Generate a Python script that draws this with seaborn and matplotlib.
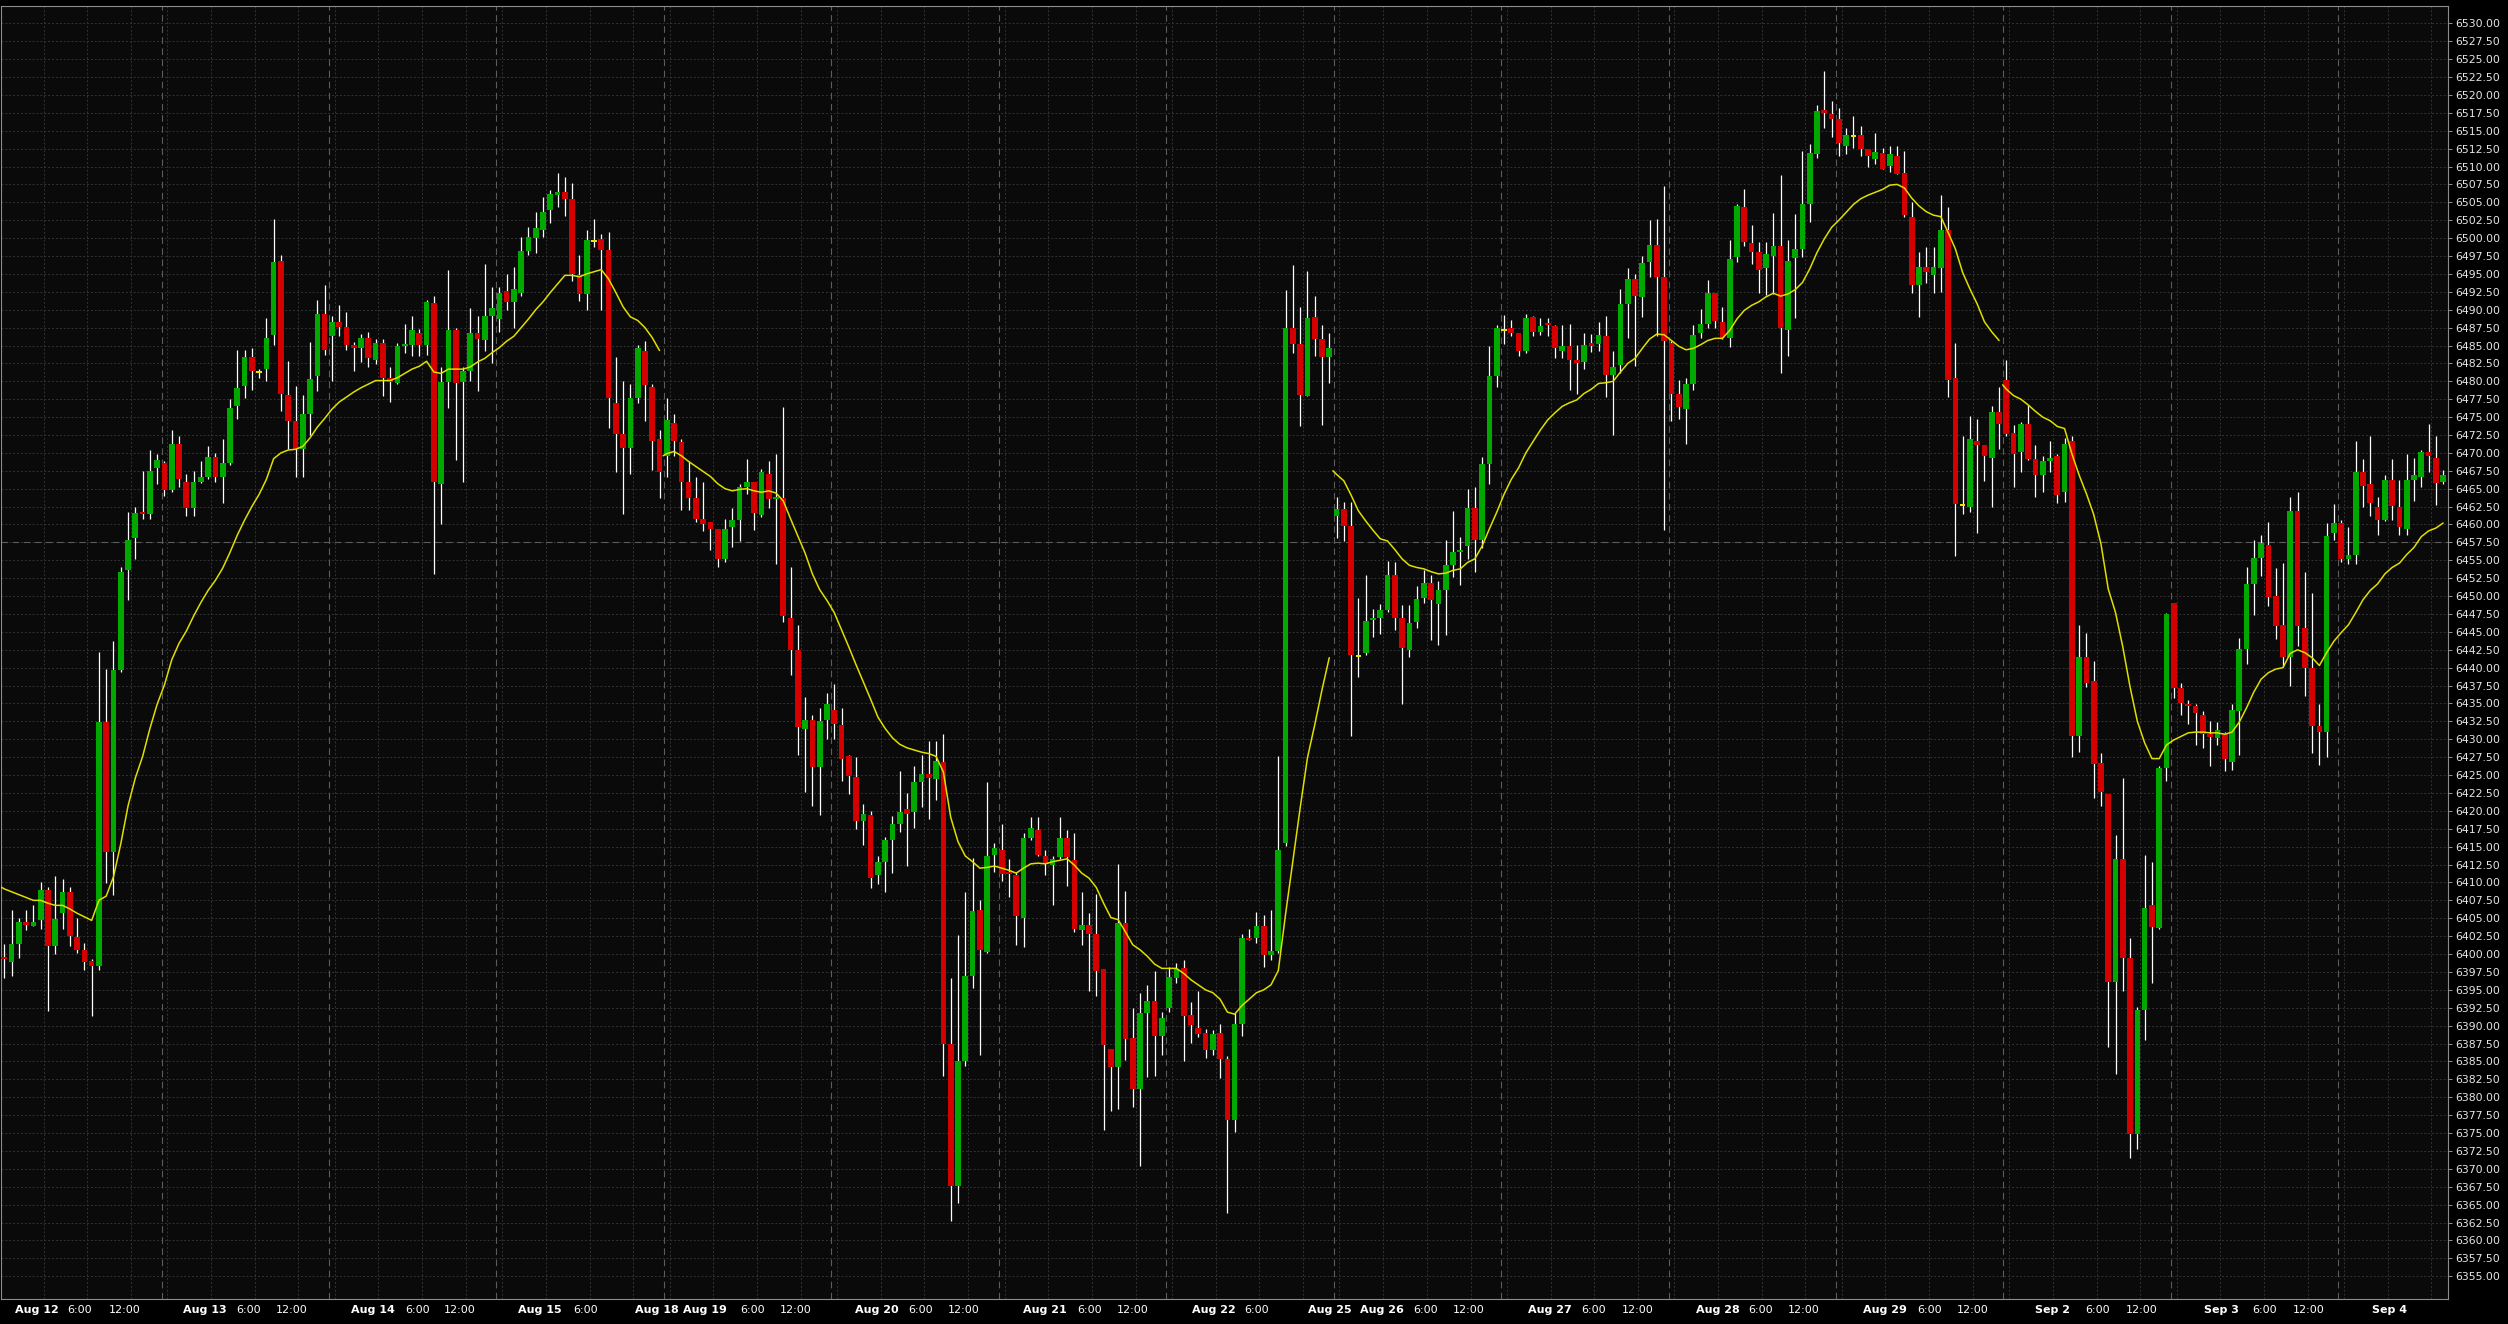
import numpy as np
import pandas as pd
import matplotlib
matplotlib.use("Agg")
import matplotlib.pyplot as plt
import seaborn as sns

# hourly OHLC bars, Aug 12 - Sep 4 (one entry per bar)
opens = [
    6399.6, 6398.9, 6401.4, 6404.5, 6403.9, 6404.7, 6409.0, 6401.1, 6405.7, 6408.6,
    6402.4, 6400.6, 6399.1, 6398.4, 6432.4, 6414.2, 6439.7, 6453.7, 6458.1, 6461.7,
    6461.4, 6467.9, 6468.6, 6464.8, 6471.2, 6465.9, 6462.3, 6465.9, 6466.6, 6469.4,
    6466.7, 6468.6, 6476.5, 6479.3, 6483.4, 6481.1, 6481.7, 6486.4, 6496.8, 6478.1,
    6474.4, 6470.6, 6475.5, 6480.7, 6489.4, 6486.3, 6488.3, 6487.6, 6485.1, 6484.7,
    6486.1, 6483.0, 6485.4, 6480.4, 6479.8, 6484.9, 6485.1, 6486.8, 6485.1, 6490.9,
    6465.7, 6479.9, 6487.2, 6479.9, 6481.4, 6486.8, 6485.7, 6489.1, 6488.7, 6492.6,
    6491.1, 6492.4, 6498.2, 6500.0, 6501.1, 6503.9, 6506.0, 6506.5, 6505.5, 6494.8,
    6492.2, 6499.5, 6499.9, 6498.4, 6477.0, 6472.7, 6470.7, 6477.6, 6484.3, 6479.2,
    6471.9, 6469.6, 6474.2, 6471.5, 6466.0, 6463.7, 6460.8, 6460.3, 6459.4, 6455.2,
    6459.7, 6460.6, 6465.3, 6465.9, 6461.3, 6467.1, 6463.5, 6463.7, 6446.9, 6442.4,
    6431.5, 6432.7, 6426.1, 6432.7, 6434.1, 6432.0, 6427.6, 6424.7, 6418.6, 6419.4,
    6411.0, 6412.9, 6415.9, 6418.1, 6420.2, 6419.8, 6424.1, 6425.1, 6424.4, 6426.8,
    6387.5, 6367.6, 6385.1, 6396.9, 6406.1, 6400.3, 6413.9, 6414.6, 6411.5, 6411.1,
    6405.1, 6416.2, 6417.3, 6413.7, 6412.4, 6413.5, 6416.2, 6413.1, 6403.3, 6404.0,
    6402.8, 6397.9, 6386.8, 6384.2, 6404.4, 6388.3, 6381.2, 6391.7, 6393.5, 6388.5,
    6392.5, 6396.6, 6398.0, 6391.5, 6389.7, 6389.0, 6386.6, 6389.0, 6385.4, 6376.8,
    6390.3, 6402.3, 6402.3, 6403.9, 6399.9, 6400.4, 6415.5, 6487.5, 6485.2, 6477.9,
    6489.0, 6485.9, 6483.4, 6461.2, 6462.1, 6459.8, 6441.5, 6442.0, 6446.6, 6446.9,
    6448.1, 6452.9, 6446.9, 6442.4, 6446.4, 6449.8, 6451.8, 6448.9, 6450.9, 6454.3,
    6456.1, 6457.0, 6462.3, 6457.9, 6468.5, 6480.8, 6487.0, 6487.4, 6486.8, 6484.3,
    6489.0, 6486.9, 6488.0, 6487.7, 6484.3, 6484.9, 6483.0, 6482.7, 6485.3, 6485.2,
    6486.3, 6480.9, 6482.3, 6490.8, 6494.3, 6491.8, 6496.6, 6499.0, 6494.6, 6485.3,
    6478.2, 6476.1, 6479.6, 6486.8, 6488.0, 6492.4, 6488.3, 6486.0, 6497.3, 6504.4,
    6499.3, 6498.0, 6495.8, 6497.5, 6498.9, 6487.1, 6497.2, 6498.5, 6504.7, 6511.7,
    6517.9, 6517.3, 6516.7, 6512.9, 6514.1, 6514.4, 6512.5, 6511.0, 6511.9, 6510.1,
    6511.5, 6509.1, 6503.0, 6493.4, 6495.9, 6494.9, 6495.8, 6501.2, 6480.4, 6462.6,
    6462.4, 6471.6, 6471.1, 6469.3, 6475.7, 6480.2, 6472.8, 6470.1, 6474.1, 6469.1,
    6466.9, 6468.9, 6469.5, 6464.5, 6471.6, 6430.4, 6441.5, 6438.1, 6426.7, 6422.3,
    6396.1, 6413.3, 6399.4, 6374.8, 6392.2, 6406.8, 6403.7, 6426.0, 6449.1, 6437.2,
    6434.9, 6434.7, 6433.4, 6430.7, 6430.2, 6430.9, 6426.8, 6434.0, 6442.6, 6451.7,
    6455.3, 6457.1, 6450.0, 6446.0, 6441.5, 6461.9, 6445.6, 6440.0, 6431.9, 6431.0,
    6458.8, 6460.2, 6455.2, 6455.8, 6467.3, 6465.6, 6462.5, 6460.6, 6466.2, 6462.5,
    6459.4, 6466.2, 6466.7, 6470.1, 6469.3, 6465.9,
]
highs = [
    6401.4, 6406.2, 6405.0, 6406.2, 6406.8, 6410.0, 6409.3, 6410.9, 6410.5, 6409.3,
    6405.0, 6401.6, 6399.3, 6442.2, 6439.8, 6443.7, 6454.1, 6461.7, 6462.5, 6467.5,
    6470.4, 6469.8, 6468.8, 6473.2, 6472.3, 6467.1, 6467.5, 6468.9, 6471.0, 6470.0,
    6471.9, 6477.5, 6484.4, 6484.4, 6484.7, 6481.7, 6488.8, 6502.7, 6497.6, 6482.8,
    6479.4, 6478.1, 6485.5, 6491.4, 6493.5, 6489.1, 6490.6, 6489.7, 6485.5, 6486.6,
    6486.9, 6485.9, 6485.9, 6482.0, 6485.3, 6488.0, 6489.1, 6487.3, 6491.4, 6491.9,
    6482.0, 6495.5, 6487.4, 6482.0, 6490.3, 6489.1, 6496.4, 6493.2, 6493.2, 6495.0,
    6496.0, 6500.2, 6501.6, 6503.6, 6505.7, 6506.7, 6509.1, 6508.6, 6507.7, 6497.7,
    6501.1, 6502.6, 6500.6, 6500.8, 6483.4, 6480.0, 6479.6, 6485.1, 6485.6, 6479.6,
    6473.2, 6477.6, 6475.4, 6472.0, 6468.9, 6466.7, 6466.0, 6460.3, 6459.4, 6460.8,
    6462.3, 6465.7, 6469.1, 6465.9, 6467.8, 6468.9, 6469.9, 6476.4, 6454.0, 6446.0,
    6435.9, 6433.4, 6434.3, 6436.4, 6437.7, 6434.3, 6427.8, 6427.5, 6421.0, 6420.0,
    6413.7, 6416.3, 6419.3, 6425.6, 6422.5, 6426.2, 6427.8, 6429.7, 6429.7, 6430.7,
    6396.7, 6402.7, 6408.6, 6413.4, 6407.6, 6424.1, 6415.5, 6418.2, 6413.3, 6411.5,
    6416.9, 6419.1, 6419.1, 6414.6, 6413.7, 6419.1, 6417.3, 6416.9, 6408.7, 6405.7,
    6408.4, 6397.9, 6386.8, 6412.6, 6408.8, 6392.5, 6394.6, 6395.7, 6397.7, 6391.9,
    6398.2, 6398.8, 6399.2, 6393.3, 6394.8, 6389.5, 6389.4, 6390.3, 6385.7, 6391.7,
    6402.8, 6403.5, 6405.9, 6405.4, 6406.2, 6427.7, 6492.8, 6496.3, 6490.4, 6495.4,
    6491.9, 6487.9, 6486.8, 6463.8, 6463.2, 6463.2, 6449.8, 6452.9, 6448.2, 6448.9,
    6454.9, 6454.7, 6448.7, 6448.7, 6451.4, 6453.6, 6452.9, 6452.1, 6457.8, 6461.9,
    6458.3, 6465.0, 6465.2, 6469.4, 6485.0, 6487.8, 6489.2, 6488.5, 6486.8, 6489.4,
    6489.1, 6488.8, 6488.8, 6487.9, 6487.9, 6488.0, 6485.1, 6486.7, 6486.6, 6488.3,
    6489.1, 6484.2, 6492.9, 6495.8, 6495.0, 6497.5, 6502.5, 6502.7, 6507.3, 6485.6,
    6480.2, 6480.4, 6487.8, 6490.1, 6494.1, 6492.4, 6490.4, 6499.7, 6504.7, 6506.9,
    6501.9, 6499.5, 6499.4, 6503.5, 6508.8, 6499.7, 6503.4, 6512.2, 6513.2, 6518.6,
    6523.3, 6519.2, 6518.2, 6515.4, 6517.0, 6515.7, 6512.5, 6514.7, 6512.6, 6512.8,
    6512.8, 6512.2, 6505.0, 6498.0, 6498.7, 6498.7, 6506.0, 6504.3, 6485.3, 6472.3,
    6475.1, 6474.8, 6471.1, 6476.5, 6479.2, 6483.0, 6473.9, 6474.3, 6476.7, 6471.1,
    6469.5, 6471.6, 6469.9, 6472.1, 6472.4, 6446.0, 6444.9, 6441.0, 6428.1, 6422.3,
    6416.6, 6424.6, 6402.3, 6392.6, 6413.9, 6412.9, 6426.2, 6447.7, 6449.1, 6437.8,
    6435.5, 6434.9, 6434.0, 6432.5, 6432.4, 6431.0, 6434.9, 6444.2, 6454.1, 6457.8,
    6458.5, 6460.3, 6453.9, 6454.6, 6463.8, 6464.5, 6453.4, 6450.5, 6434.9, 6460.2,
    6462.8, 6460.6, 6459.7, 6471.6, 6469.1, 6472.3, 6463.9, 6466.9, 6469.1, 6466.2,
    6469.9, 6469.3, 6470.4, 6474.1, 6472.3, 6467.6,
]
lows = [
    6396.6, 6397.0, 6399.5, 6403.3, 6403.9, 6403.5, 6392.0, 6400.0, 6403.5, 6401.1,
    6400.1, 6397.8, 6391.3, 6397.8, 6409.9, 6408.3, 6439.4, 6449.5, 6455.2, 6460.8,
    6460.8, 6465.6, 6464.0, 6464.6, 6465.2, 6461.2, 6461.2, 6465.8, 6466.3, 6466.0,
    6463.0, 6468.3, 6474.8, 6477.6, 6478.8, 6480.5, 6480.1, 6485.1, 6475.9, 6470.6,
    6466.7, 6466.7, 6472.5, 6478.6, 6483.7, 6480.1, 6486.3, 6484.4, 6481.4, 6482.7,
    6482.0, 6482.4, 6478.0, 6477.1, 6479.6, 6484.0, 6483.6, 6483.6, 6483.7, 6453.1,
    6460.0, 6476.3, 6469.0, 6466.0, 6480.1, 6478.6, 6484.2, 6482.5, 6486.9, 6490.0,
    6487.5, 6491.9, 6497.7, 6497.9, 6500.2, 6502.1, 6504.3, 6503.1, 6494.0, 6491.2,
    6490.0, 6498.7, 6490.0, 6473.5, 6467.4, 6461.5, 6467.1, 6476.9, 6474.4, 6467.6,
    6463.7, 6466.7, 6469.6, 6462.0, 6462.0, 6460.3, 6459.1, 6456.5, 6454.0, 6454.7,
    6456.9, 6457.7, 6464.2, 6459.2, 6461.0, 6462.3, 6454.5, 6446.4, 6439.0, 6427.8,
    6422.7, 6420.7, 6419.4, 6430.0, 6430.0, 6424.2, 6422.3, 6417.4, 6415.2, 6409.2,
    6409.8, 6408.7, 6411.3, 6417.1, 6412.3, 6417.6, 6420.5, 6418.8, 6421.5, 6382.9,
    6362.7, 6365.2, 6384.3, 6395.3, 6385.9, 6400.1, 6411.5, 6410.2, 6408.0, 6401.3,
    6401.0, 6416.0, 6413.7, 6411.1, 6406.8, 6413.3, 6409.5, 6403.1, 6401.3, 6394.8,
    6394.1, 6375.4, 6378.1, 6378.4, 6385.2, 6378.7, 6370.4, 6382.8, 6383.0, 6385.9,
    6391.9, 6395.9, 6385.0, 6387.6, 6388.4, 6385.5, 6385.9, 6382.7, 6363.9, 6375.2,
    6388.5, 6401.9, 6401.5, 6398.2, 6399.2, 6400.1, 6415.1, 6483.9, 6473.7, 6477.9,
    6483.5, 6473.9, 6479.7, 6458.1, 6457.7, 6430.4, 6438.7, 6441.8, 6444.3, 6444.7,
    6447.8, 6445.2, 6434.9, 6441.5, 6445.5, 6449.1, 6443.8, 6443.2, 6444.5, 6452.7,
    6451.6, 6455.2, 6453.4, 6456.7, 6465.6, 6479.2, 6485.2, 6486.3, 6483.5, 6484.0,
    6486.3, 6486.4, 6486.3, 6483.3, 6483.2, 6478.8, 6478.2, 6481.7, 6484.1, 6484.2,
    6477.8, 6472.5, 6481.1, 6486.0, 6482.2, 6489.0, 6494.5, 6486.3, 6459.3, 6474.5,
    6474.7, 6471.2, 6478.8, 6486.0, 6487.5, 6487.5, 6485.9, 6484.8, 6496.7, 6498.9,
    6496.4, 6492.3, 6492.0, 6492.2, 6481.1, 6483.5, 6488.8, 6497.3, 6502.2, 6511.2,
    6515.4, 6514.1, 6511.5, 6511.8, 6512.6, 6511.4, 6510.0, 6510.3, 6509.7, 6509.2,
    6508.9, 6502.9, 6492.4, 6489.0, 6493.7, 6492.4, 6492.5, 6477.8, 6455.6, 6461.4,
    6461.7, 6458.8, 6466.1, 6462.5, 6470.6, 6472.3, 6465.2, 6467.3, 6469.0, 6463.9,
    6464.5, 6467.3, 6463.0, 6463.2, 6427.5, 6428.2, 6437.3, 6421.8, 6420.7, 6387.0,
    6383.3, 6394.8, 6371.5, 6372.8, 6388.0, 6395.9, 6403.5, 6424.2, 6435.8, 6433.4,
    6432.1, 6429.2, 6428.8, 6426.2, 6429.2, 6425.5, 6425.7, 6427.8, 6440.5, 6447.3,
    6452.8, 6448.6, 6444.0, 6440.1, 6437.5, 6443.0, 6436.1, 6428.1, 6426.4, 6427.5,
    6457.8, 6454.8, 6454.5, 6454.5, 6462.5, 6461.2, 6458.5, 6460.5, 6460.6, 6458.5,
    6458.5, 6463.3, 6465.2, 6467.3, 6462.7, 6465.6,
]
closes = [
    6399.3, 6401.4, 6404.5, 6404.1, 6404.5, 6409.0, 6401.1, 6404.9, 6408.6, 6402.5,
    6400.6, 6398.9, 6398.4, 6432.4, 6414.2, 6439.7, 6453.3, 6457.8, 6461.6, 6461.4,
    6467.5, 6469.0, 6464.8, 6471.2, 6466.3, 6462.3, 6465.9, 6466.6, 6469.4, 6466.7,
    6468.6, 6476.3, 6479.1, 6483.4, 6481.5, 6481.1, 6486.1, 6496.6, 6478.2, 6474.4,
    6470.6, 6475.5, 6480.3, 6489.4, 6484.4, 6488.3, 6487.6, 6485.1, 6484.7, 6486.1,
    6483.2, 6485.4, 6480.4, 6479.9, 6484.9, 6485.1, 6487.2, 6485.1, 6491.1, 6466.0,
    6479.9, 6487.2, 6479.8, 6481.4, 6486.8, 6485.9, 6489.1, 6490.3, 6492.4, 6491.1,
    6492.9, 6498.2, 6500.2, 6501.4, 6503.6, 6506.2, 6506.5, 6505.5, 6495.0, 6492.2,
    6499.7, 6499.5, 6498.4, 6477.6, 6472.7, 6470.7, 6477.6, 6484.6, 6479.5, 6471.7,
    6467.3, 6474.6, 6471.7, 6466.0, 6463.7, 6460.8, 6460.1, 6459.4, 6455.2, 6459.4,
    6460.6, 6465.2, 6465.9, 6461.6, 6467.3, 6463.5, 6463.9, 6447.2, 6442.4, 6431.7,
    6432.7, 6426.1, 6432.5, 6434.9, 6432.2, 6427.3, 6424.9, 6418.6, 6419.5, 6410.6,
    6412.9, 6415.9, 6418.1, 6419.8, 6419.5, 6424.1, 6425.1, 6424.6, 6427.0, 6387.5,
    6367.6, 6385.1, 6396.9, 6406.0, 6400.6, 6413.7, 6414.8, 6411.2, 6411.2, 6405.3,
    6416.2, 6417.6, 6413.9, 6412.6, 6413.3, 6416.2, 6413.5, 6403.5, 6404.1, 6402.8,
    6397.7, 6387.3, 6384.2, 6404.4, 6388.2, 6381.2, 6391.7, 6393.5, 6388.5, 6391.0,
    6396.8, 6397.9, 6391.3, 6390.1, 6388.8, 6386.6, 6388.8, 6385.4, 6376.8, 6390.3,
    6402.3, 6402.0, 6403.9, 6399.9, 6400.4, 6414.6, 6487.4, 6485.2, 6478.1, 6488.9,
    6485.9, 6483.4, 6484.6, 6462.1, 6459.8, 6441.8, 6441.5, 6446.5, 6446.9, 6448.1,
    6452.9, 6446.9, 6442.7, 6446.3, 6449.6, 6451.8, 6449.4, 6450.9, 6454.3, 6456.1,
    6456.5, 6462.3, 6457.9, 6468.4, 6480.8, 6487.5, 6487.0, 6486.8, 6484.2, 6488.8,
    6486.9, 6487.7, 6487.8, 6484.7, 6484.9, 6483.0, 6482.6, 6485.1, 6485.0, 6486.5,
    6480.9, 6482.0, 6490.8, 6494.3, 6491.9, 6496.5, 6499.0, 6494.6, 6485.6, 6478.2,
    6476.4, 6479.6, 6486.5, 6488.0, 6492.4, 6488.4, 6486.0, 6497.1, 6504.5, 6499.4,
    6498.1, 6495.6, 6497.8, 6498.9, 6487.4, 6496.8, 6498.5, 6504.7, 6511.9, 6517.7,
    6517.5, 6516.7, 6513.3, 6514.4, 6514.1, 6512.5, 6511.5, 6512.0, 6509.7, 6511.7,
    6509.0, 6503.2, 6493.4, 6495.9, 6495.3, 6495.9, 6501.2, 6480.2, 6462.9, 6462.6,
    6471.9, 6471.1, 6469.6, 6475.7, 6474.0, 6472.6, 6469.9, 6474.1, 6469.1, 6466.9,
    6468.8, 6469.3, 6464.1, 6471.3, 6430.4, 6441.5, 6437.8, 6426.6, 6422.7, 6396.1,
    6413.3, 6399.4, 6374.8, 6392.2, 6406.5, 6403.8, 6426.0, 6447.5, 6437.2, 6435.0,
    6434.6, 6433.6, 6430.7, 6430.3, 6431.3, 6427.2, 6434.1, 6442.6, 6451.7, 6455.3,
    6457.4, 6449.9, 6445.8, 6441.5, 6461.9, 6445.8, 6440.0, 6431.9, 6431.0, 6458.4,
    6460.2, 6455.2, 6455.8, 6467.3, 6465.4, 6463.0, 6460.6, 6466.2, 6462.6, 6459.7,
    6466.2, 6466.9, 6470.1, 6469.6, 6465.8, 6466.9,
]

# moving average; it restarts at each weekly break
ma_week1 = [
    6409.4,
    6409.1, 6408.7, 6408.3, 6407.9, 6407.5, 6407.5, 6407.1, 6406.8, 6406.8, 6406.3,
    6405.7, 6405.2, 6404.7, 6407.5, 6408.1, 6410.8, 6415.4, 6420.7, 6424.6, 6427.6,
    6431.5, 6434.9, 6437.6, 6441.1, 6443.4, 6445.1, 6447.2, 6449.1, 6450.8, 6452.2,
    6453.9, 6456.1, 6458.5, 6460.6, 6462.5, 6464.2, 6466.3, 6469.2, 6470.0, 6470.4,
    6470.5, 6470.9, 6472.1, 6473.6, 6474.8, 6476.1, 6477.1, 6477.8, 6478.5, 6479.1,
    6479.6, 6480.1, 6480.1, 6480.1, 6480.5, 6481.1, 6481.7, 6482.1, 6482.8, 6481.3,
    6481.1, 6481.7, 6481.7, 6481.7, 6482.0, 6482.7, 6483.2, 6484.0, 6484.7, 6485.6,
    6486.3, 6487.5, 6488.7, 6490.0, 6491.1, 6492.4, 6493.6, 6494.8, 6494.8, 6494.6,
    6495.0, 6495.3, 6495.6, 6494.3, 6492.4, 6490.4, 6489.0, 6488.5, 6487.5, 6486.1,
    6484.3,
]
ma_week2 = [
    6469.6,
    6469.9, 6470.2, 6469.6, 6468.8, 6468.1, 6467.4, 6466.7, 6465.7, 6465.0, 6464.7,
    6464.9, 6465.0, 6464.7, 6464.5, 6464.7, 6464.4, 6463.3, 6460.8, 6458.4, 6456.0,
    6453.1, 6450.9, 6449.4, 6447.7, 6445.3, 6442.9, 6440.4, 6438.0, 6435.6, 6433.1,
    6431.5, 6430.2, 6429.3, 6428.8, 6428.5, 6428.2, 6428.0, 6427.6, 6425.4, 6419.1,
    6415.7, 6413.7, 6412.9, 6412.0, 6412.1, 6412.3, 6412.0, 6411.7, 6411.3, 6412.0,
    6412.6, 6412.7, 6412.6, 6412.9, 6413.1, 6413.3, 6412.4, 6411.3, 6410.6, 6409.3,
    6407.1, 6405.1, 6404.8, 6403.1, 6401.3, 6400.6, 6399.7, 6398.6, 6398.0, 6398.0,
    6398.0, 6397.3, 6396.4, 6395.7, 6395.0, 6394.6, 6393.7, 6391.9, 6391.6, 6392.8,
    6393.7, 6394.6, 6395.0, 6395.7, 6397.7, 6405.6, 6413.0, 6420.4, 6427.4, 6432.0,
    6436.9, 6441.4,
]
ma_week3 = [
    6467.5,
    6467.0, 6466.1, 6464.1, 6461.9, 6460.5, 6459.2, 6458.0, 6457.7, 6456.5, 6455.2,
    6454.3, 6454.0, 6453.8, 6453.4, 6453.1, 6453.2, 6453.6, 6453.8, 6454.7, 6455.2,
    6457.0, 6459.4, 6461.7, 6464.2, 6466.3, 6467.9, 6470.0, 6471.6, 6473.2, 6474.6,
    6475.6, 6476.5, 6477.0, 6477.4, 6478.3, 6478.9, 6479.7, 6479.8, 6480.0, 6481.3,
    6482.5, 6483.2, 6484.6, 6485.9, 6486.6, 6486.5, 6485.7, 6484.9, 6484.4, 6484.6,
    6485.1, 6485.7, 6486.0, 6486.0, 6487.1, 6488.7, 6489.9, 6490.6, 6491.1, 6491.8,
    6492.3, 6491.9, 6492.2, 6492.8, 6493.8, 6495.7, 6498.0, 6499.9, 6501.5, 6502.5,
    6503.6, 6504.7, 6505.5, 6506.0, 6506.4, 6506.8, 6507.4, 6507.5, 6507.0, 6505.6,
    6504.5, 6503.7, 6503.2, 6503.0, 6500.8, 6498.5, 6495.2, 6492.9, 6490.8, 6488.3,
    6486.9, 6485.7,
]
ma_week4 = [
    6479.5,
    6478.9, 6478.0, 6477.5, 6476.7, 6475.8, 6475.0, 6474.5, 6473.7, 6473.4, 6469.9,
    6466.9, 6464.3, 6461.4, 6457.3, 6451.0, 6447.7, 6442.9, 6437.3, 6432.5, 6429.5,
    6427.3, 6427.3, 6429.2, 6429.9, 6430.4, 6430.9, 6431.0, 6431.0, 6430.9, 6430.9,
    6430.7, 6431.0, 6432.4, 6434.4, 6436.6, 6438.4, 6439.3, 6439.8, 6440.0, 6442.0,
    6442.5, 6442.1, 6441.4, 6440.3, 6442.1, 6443.7, 6444.9, 6446.0, 6447.7, 6449.5,
    6450.8, 6451.7, 6453.1, 6454.0, 6454.6, 6455.8, 6456.8, 6458.3, 6459.1, 6459.5,
    6460.2,
]
# bar where each MA segment starts (first point sits half a bar earlier)
ma_starts = [0, 91, 183, 275]

# bottom axis labels and the bar they sit under
tick_labels = ['Aug 12', '6:00', '12:00', 'Aug 13', '6:00', '12:00', 'Aug 14', '6:00', '12:00',
               'Aug 15', '6:00', 'Aug 18', 'Aug 19', '6:00', '12:00', 'Aug 20', '6:00', '12:00',
               'Aug 21', '6:00', '12:00', 'Aug 22', '6:00', 'Aug 25', 'Aug 26', '6:00', '12:00',
               'Aug 27', '6:00', '12:00', 'Aug 28', '6:00', '12:00', 'Aug 29', '6:00', '12:00',
               'Sep 2', '6:00', '12:00', 'Sep 3', '6:00', '12:00', 'Sep 4']
tick_bars = [4.5, 10.4, 16.6, 27.6, 33.5, 39.5, 50.6, 56.7, 62.6, 73.6, 79.8, 89.7,
             96.3, 102.8, 108.7, 119.9, 125.9, 131.8, 142.9, 149.1, 155.0, 166.2, 172.0,
             182.1, 189.2, 195.2, 201.1, 212.3, 218.3, 224.3, 235.4, 241.3, 247.2,
             258.3, 264.4, 270.4, 281.4, 287.5, 293.6, 304.6, 310.5, 316.6, 327.7]

df = pd.DataFrame({'open': opens, 'high': highs, 'low': lows, 'close': closes})
df['bar'] = np.arange(len(df))

segs = []
for k, (start, vals) in enumerate(zip(ma_starts, [ma_week1, ma_week2, ma_week3, ma_week4])):
    xs = [start - 0.5] + list(range(start, start + len(vals) - 1))
    segs.append(pd.DataFrame({'bar': xs, 'ma': vals, 'seg': k}))
ma_df = pd.concat(segs, ignore_index=True)

sns.set_theme(style='dark', rc={'axes.facecolor': '#0a0a0a', 'figure.facecolor': '#000000'})
plt.rcParams['font.family'] = ['DejaVu Sans']

W, H = 2508, 1324
fig = plt.figure(figsize=(W / 100, H / 100), dpi=100)
ax = fig.add_axes([1 / W, 1 - 1299 / H, 2447 / W, 1293 / H])
ax.set_facecolor('#0a0a0a')

# grid
for y in np.arange(6355, 6531, 2.5):
    ax.axhline(y, color='#333333', lw=0.7, ls=(0, (2, 2)), zorder=0)
for k in range(15):
    for off in (5.4, 11.4, 17.4, 22.4):
        ax.axvline(off + 23 * k, color='#333333', lw=0.7, ls=(0, (2, 2)), zorder=0)
    ax.axvline(21.6 + 23 * k, color='#5c5c5c', lw=0.8, ls=(0, (6, 4)), zorder=0)
ax.axhline(6457.5, color='#5c5c5c', lw=0.8, ls=(0, (6, 4)), zorder=0)

# candles
up = df['close'] > df['open']
down = df['close'] < df['open']
colors = np.where(up, '#00a800', np.where(down, '#d40000', '#e6e600'))
body_lo = df[['open', 'close']].min(axis=1)
body_h = (df['close'] - df['open']).abs().clip(lower=0.28)
ax.vlines(df['bar'], df['low'], df['high'], color='white', lw=0.9, zorder=2)
ax.bar(df['bar'], body_h, bottom=body_lo, width=0.78, color=colors, linewidth=0, zorder=3)

sns.lineplot(data=ma_df, x='bar', y='ma', units='seg', estimator=None, sort=False,
             color='#dede00', lw=1.1, ax=ax, legend=False, zorder=4)

ax.set_xlim(-0.453, 335.67)
ax.set_ylim(6351.82, 6532.42)
ax.set_xlabel('')
ax.set_ylabel('')

ax.yaxis.tick_right()
yt = np.arange(6355, 6531, 2.5)
ax.set_yticks(yt)
ax.set_yticklabels([f'{v:.2f}' for v in yt])
ax.tick_params(axis='y', direction='out', length=3, width=0.75, color='#8c8c8c',
               labelcolor='#e6e6e6', labelsize=7.8, pad=2, right=True, left=False)

ax.set_xticks(tick_bars)
ax.set_xticklabels(tick_labels)
ax.tick_params(axis='x', length=0, pad=4, labelcolor='white', labelsize=8)
for lbl in ax.get_xticklabels():
    if lbl.get_text()[:3] in ('Aug', 'Sep'):
        lbl.set_fontweight('bold')

for sp in ax.spines.values():
    sp.set_visible(True)
    sp.set_color('#8c8c8c')
    sp.set_linewidth(0.8)
ax.grid(False)

fig.savefig('out.png', dpi=100, facecolor=fig.get_facecolor())
